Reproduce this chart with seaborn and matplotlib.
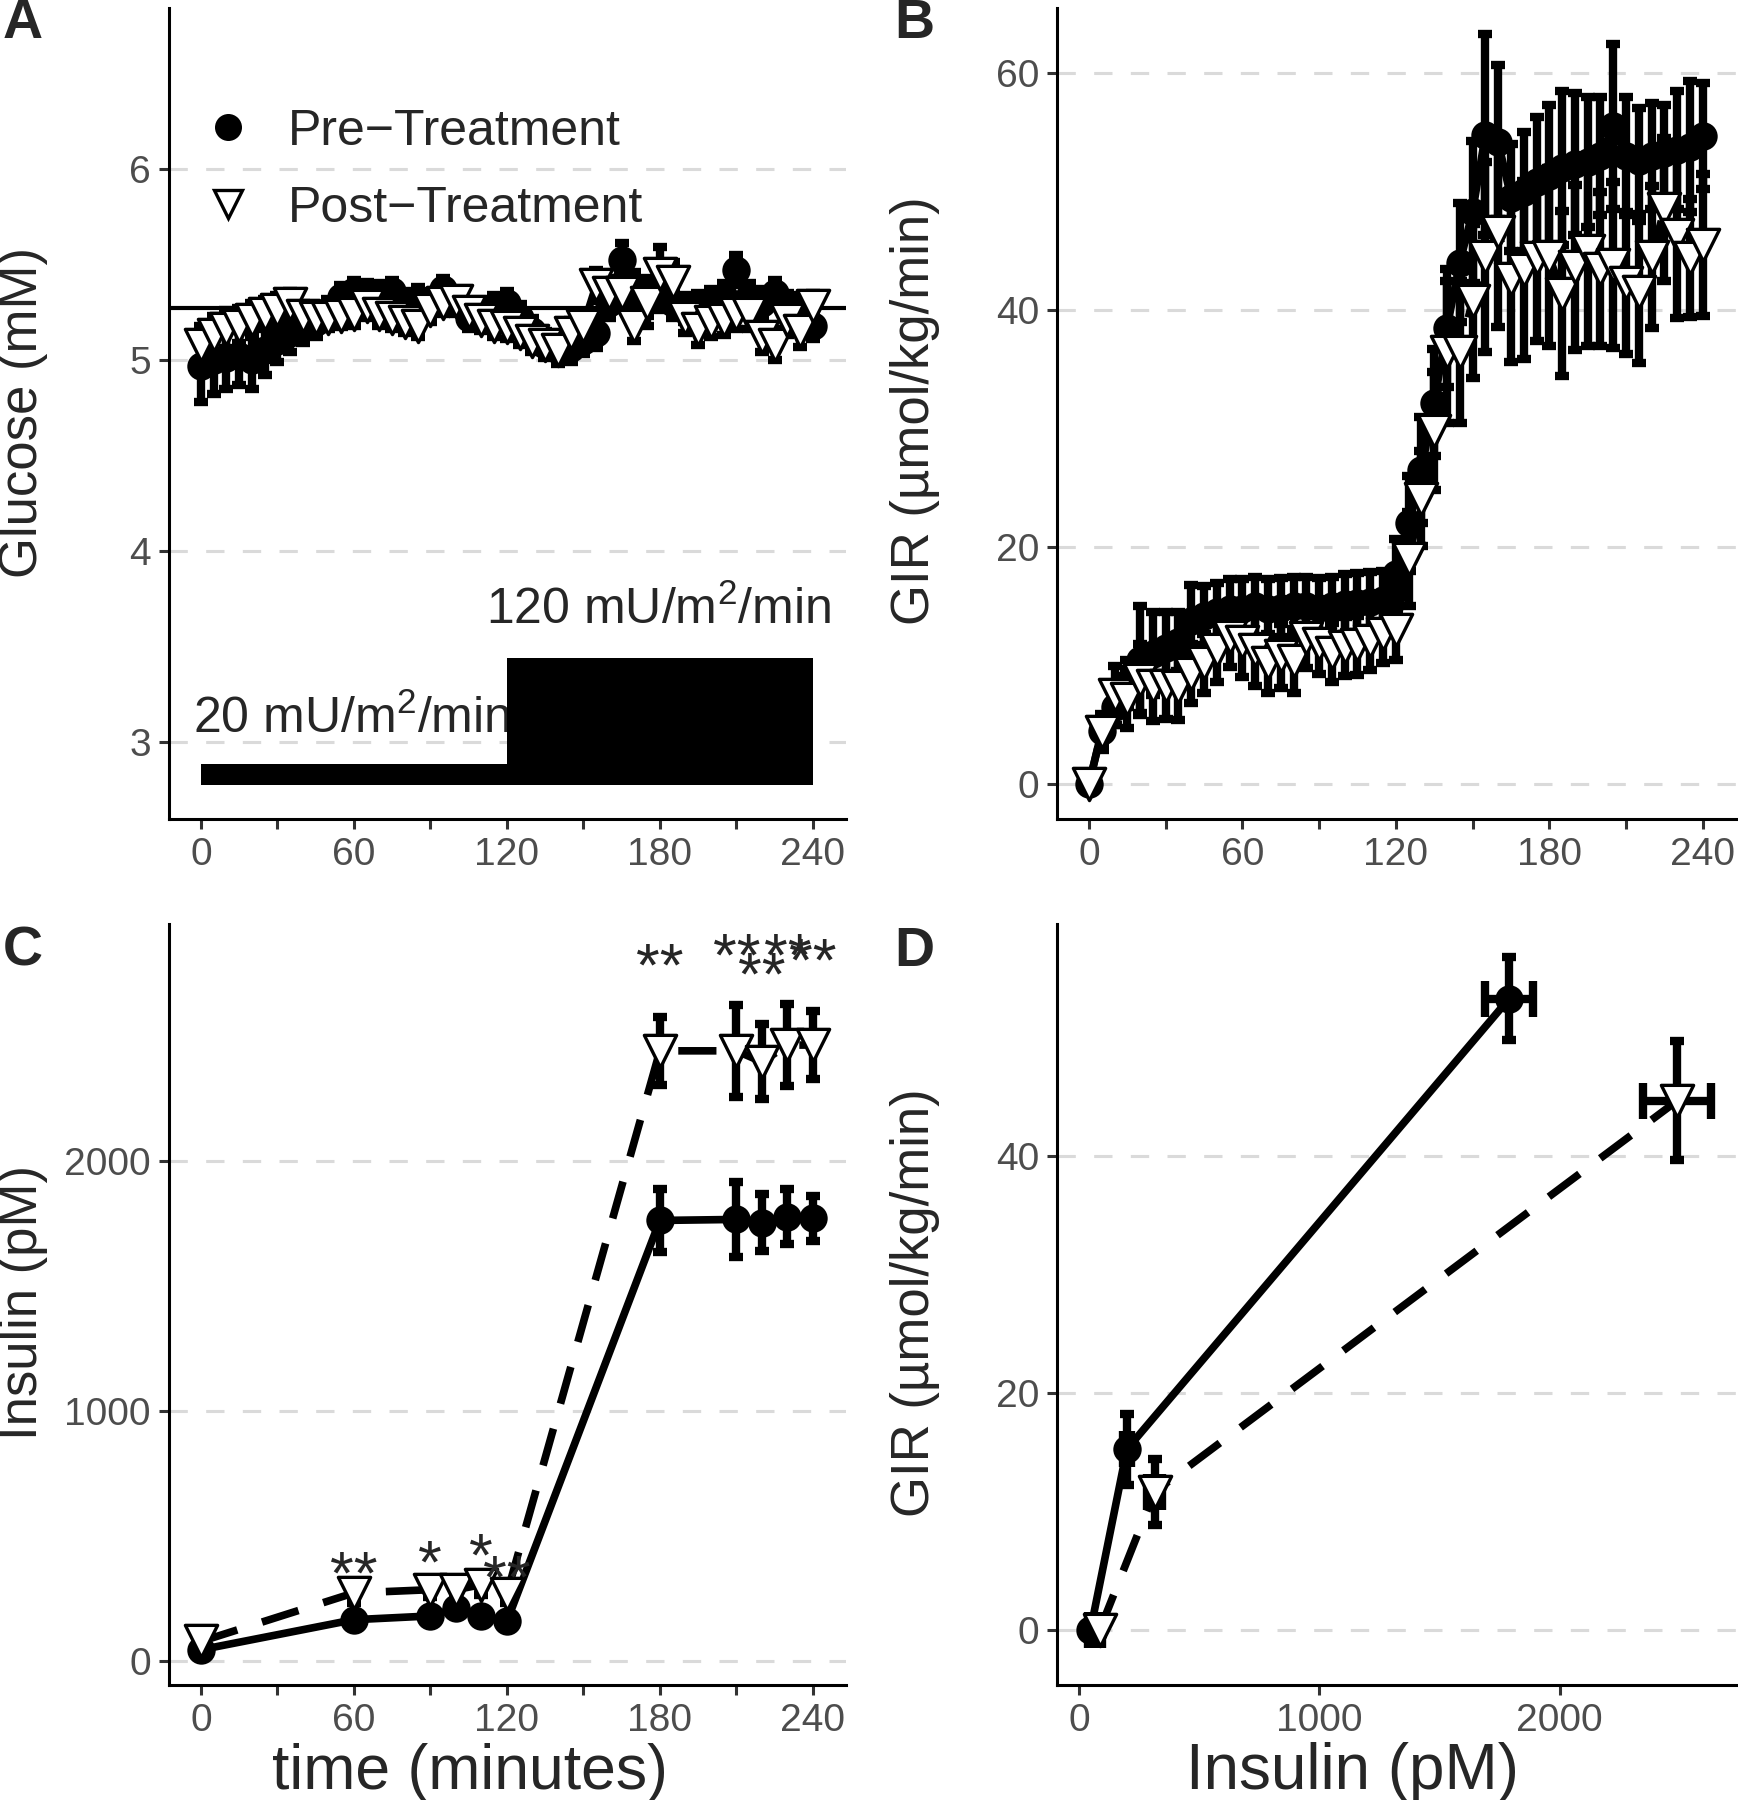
import numpy as np
import pandas as pd
import matplotlib
matplotlib.use("Agg")
import matplotlib.pyplot as plt
from matplotlib.lines import Line2D
import seaborn as sns

sns.set_theme(style="white")
plt.rcParams['font.family'] = ['Liberation Sans', 'DejaVu Sans']
plt.rcParams['mathtext.fontset'] = 'custom'
plt.rcParams['mathtext.rm'] = 'Liberation Sans'
plt.rcParams['mathtext.it'] = 'Liberation Sans:italic'
plt.rcParams['mathtext.bf'] = 'Liberation Sans:bold'

# ---------------- data ----------------
time_ab = [0, 5, 10, 15, 20, 25, 30, 35, 40, 45, 50, 55, 60, 65, 70, 75, 80, 85, 90, 95,
           100, 105, 110, 115, 120, 125, 130, 135, 140, 145, 150, 155, 160, 165, 170, 175,
           180, 185, 190, 195, 200, 205, 210, 215, 220, 225, 230, 235, 240]

glucose_pre = [4.97, 5.00, 5.01, 5.02, 5.00, 5.05, 5.10, 5.14, 5.18, 5.20,
               5.25, 5.33, 5.36, 5.35, 5.34, 5.36, 5.30, 5.32, 5.30, 5.37,
               5.30, 5.22, 5.22, 5.28, 5.30, 5.22, 5.15, 5.08, 5.05, 5.06,
               5.10, 5.14, 5.30, 5.52, 5.38, 5.33, 5.38, 5.30, 5.27, 5.28,
               5.30, 5.33, 5.47, 5.33, 5.30, 5.35, 5.28, 5.27, 5.18]
glucose_pre_se = [0.19, 0.18, 0.16, 0.15, 0.15, 0.13, 0.11, 0.10, 0.09, 0.08,
                  0.07, 0.06, 0.06, 0.06, 0.06, 0.06, 0.06, 0.06, 0.06, 0.06,
                  0.06, 0.06, 0.06, 0.06, 0.06, 0.07, 0.07, 0.07, 0.07, 0.07,
                  0.07, 0.08, 0.08, 0.09, 0.08, 0.10, 0.12, 0.08, 0.07, 0.07,
                  0.07, 0.07, 0.08, 0.07, 0.07, 0.07, 0.07, 0.07, 0.07]
glucose_post = [5.08, 5.13, 5.16, 5.18, 5.21, 5.24, 5.26, 5.29, 5.23, 5.22,
                5.22, 5.23, 5.24, 5.28, 5.24, 5.22, 5.20, 5.18, 5.26, 5.30,
                5.31, 5.25, 5.21, 5.18, 5.17, 5.14, 5.10, 5.08, 5.05, 5.14,
                5.18, 5.39, 5.35, 5.35, 5.18, 5.30, 5.45, 5.41, 5.22, 5.16,
                5.20, 5.21, 5.24, 5.24, 5.12, 5.08, 5.21, 5.15, 5.28]
glucose_post_se = [0.10, 0.10, 0.10, 0.09, 0.09, 0.08, 0.08, 0.07, 0.07, 0.06,
                   0.06, 0.06, 0.06, 0.06, 0.06, 0.06, 0.06, 0.06, 0.06, 0.06,
                   0.06, 0.06, 0.06, 0.06, 0.06, 0.06, 0.06, 0.06, 0.06, 0.07,
                   0.07, 0.08, 0.08, 0.08, 0.08, 0.12, 0.14, 0.10, 0.08, 0.08,
                   0.08, 0.08, 0.08, 0.08, 0.08, 0.08, 0.08, 0.08, 0.07]
glucose_mean = 5.27

infusion_start = [0, 120]
infusion_width = [120, 120]
infusion_rate = [20, 120]
infusion_labels = [r'20 mU/m$^2$/min', r'120 mU/m$^2$/min']

gir_pre = [0.0, 4.5, 6.5, 8.5, 10.5, 11.0, 11.5, 12.0, 13.8, 14.2,
           14.5, 14.8, 14.8, 15.0, 14.8, 14.9, 15.0, 15.0, 14.9, 15.0,
           15.2, 15.3, 15.4, 15.5, 17.7, 22.0, 26.5, 32.2, 38.5, 44.0,
           48.3, 54.8, 54.2, 49.5, 50.0, 50.8, 51.3, 52.0, 52.3, 52.5,
           53.0, 55.5, 53.0, 52.6, 53.0, 53.3, 53.5, 53.8, 54.7]
gir_pre_se = [0.3, 1.0, 1.5, 2.0, 4.5, 3.5, 3.0, 2.5, 3.0, 2.5,
              2.5, 2.5, 2.5, 2.5, 2.5, 2.5, 2.5, 2.5, 2.5, 2.5,
              2.5, 2.5, 2.5, 2.5, 3.0, 4.0, 4.5, 4.5, 5.0, 5.0,
              6.0, 8.5, 6.5, 4.5, 5.0, 5.5, 6.0, 6.5, 6.0, 5.5,
              5.0, 7.0, 5.0, 4.5, 4.5, 4.0, 5.0, 5.5, 4.5]
gir_post = [0.0, 4.4, 7.5, 7.2, 8.8, 8.3, 8.3, 8.2, 9.3, 10.2,
            11.3, 12.4, 12.0, 11.3, 10.2, 10.8, 10.4, 12.3, 11.8, 11.1,
            11.6, 11.7, 12.1, 12.7, 13.0, 19.0, 24.1, 29.8, 36.5, 36.5,
            40.8, 44.5, 46.6, 42.6, 43.4, 44.4, 44.5, 41.4, 43.6, 45.0,
            43.5, 43.8, 42.3, 41.5, 44.5, 48.5, 46.3, 44.4, 45.5]
gir_post_se = [0.3, 1.5, 2.5, 2.5, 3.0, 3.0, 2.8, 2.8, 2.5, 2.5,
               2.7, 2.5, 3.0, 3.0, 2.5, 2.7, 2.7, 2.5, 2.5, 2.5,
               2.5, 2.5, 2.5, 2.5, 2.5, 4.0, 4.0, 5.0, 6.0, 6.0,
               6.5, 8.0, 8.0, 7.0, 7.5, 7.0, 7.5, 7.0, 7.0, 8.0,
               6.5, 7.0, 6.0, 6.0, 6.0, 6.0, 7.0, 5.0, 6.0]

time_c = [0, 60, 90, 100, 110, 120, 180, 210, 220, 230, 240]
insulin_pre = [45, 165, 180, 210, 180, 158, 1761, 1765, 1752, 1775, 1770]
insulin_pre_se = [10, 20, 20, 20, 20, 20, 125, 150, 115, 110, 90]
insulin_post = [78, 272, 285, 285, 305, 268, 2439, 2439, 2395, 2462, 2462]
insulin_post_se = [12, 40, 30, 25, 40, 35, 135, 185, 150, 165, 135]

star_times = [60, 90, 110, 120, 180, 210, 220, 230, 240]
star_labels = ['**', '*', '*', '**', '**', '**', '**', '**', '**']
star_centres = [385, 430, 455, 370, 2815, 2855, 2780, 2855, 2835]

ins_pre_d = [48, 200, 1790]
ins_pre_d_se = [8, 15, 100]
gir_pre_d = [0.0, 15.3, 53.3]
gir_pre_d_se = [0.3, 3.0, 3.5]
ins_post_d = [86, 315, 2490]
ins_post_d_se = [10, 30, 141]
gir_post_d = [0.0, 11.7, 44.7]
gir_post_d_se = [0.3, 2.8, 5.0]

# ---------------- layout helpers ----------------
W, H = 1738, 1800
fig = plt.figure(figsize=(W / 100, H / 100), dpi=100)


def px_axes(l, t, r, b):
    return fig.add_axes([l / W, 1 - b / H, (r - l) / W, (b - t) / H])


TICK_FS = 28
YTITLE_FS = 38
XTITLE_FS = 45
LEG_FS = 36
ANN_FS = 36
STAR_FS = 44
LW = 5.5
DASH = (0, (5.0, 3.4))
CIRCLE_S = 340
TRI_S = 540
EB_LW = 6.0


def style_axes(ax, xlim, ylim, xticks, xticklabels, yticks):
    ax.set_xlim(*xlim)
    ax.set_ylim(*ylim)
    ax.set_xticks(xticks)
    ax.set_xticklabels(xticklabels)
    ax.set_yticks(yticks)
    ax.set_yticklabels([str(v) for v in yticks])
    ax.grid(False)
    for s in ['top', 'right']:
        ax.spines[s].set_visible(False)
    for s in ['left', 'bottom']:
        ax.spines[s].set_color('black')
        ax.spines[s].set_linewidth(2.2)
    ax.tick_params(axis='both', direction='out', length=7, width=2.2, color='#333333',
                   labelsize=TICK_FS, labelcolor='#4D4D4D', pad=6,
                   bottom=True, left=True)
    for y in yticks:
        ax.axhline(y, color='#DADADA', lw=2.2, ls=(0, (6, 6)), zorder=0)
    ax.set_xlabel('')
    ax.set_ylabel('')


def draw_series(ax, x, y, se, kind, xerr=None, line=True):
    df = pd.DataFrame({'x': x, 'y': y})
    ls = '-' if kind == 'pre' else DASH
    if line:
        sns.lineplot(data=df, x='x', y='y', ax=ax, color='black', lw=LW, linestyle=ls,
                     estimator=None, sort=False, zorder=2, legend=False)
    ax.errorbar(x, y, yerr=se, fmt='none', ecolor='black', elinewidth=EB_LW,
                capsize=5, capthick=EB_LW, zorder=3)
    if xerr is not None:
        ax.errorbar(x, y, xerr=xerr, fmt='none', ecolor='black', elinewidth=EB_LW,
                    capsize=13, capthick=EB_LW, zorder=3)
    if kind == 'pre':
        sns.scatterplot(data=df, x='x', y='y', ax=ax, marker='o', s=CIRCLE_S, color='black',
                        edgecolor='black', linewidth=2.0, zorder=4, legend=False)
    else:
        sns.scatterplot(data=df, x='x', y='y', ax=ax, marker='v', s=TRI_S, color='white',
                        edgecolor='black', linewidth=2.4, zorder=5, legend=False)


time_ticks = [0, 30, 60, 90, 120, 150, 180, 210, 240]
time_labels = ['0', '', '60', '', '120', '', '180', '', '240']
TLIM = (-12.5, 253)

# ---------------- Panel A ----------------
axA = px_axes(169, 8, 846, 819)
draw_series(axA, time_ab, glucose_pre, glucose_pre_se, 'pre')
draw_series(axA, time_ab, glucose_post, glucose_post_se, 'post')
axA.axhline(glucose_mean, color='black', lw=3, zorder=1.5)
bar_base = 2.78
bar_scale = 0.0055
axA.bar(infusion_start, [r * bar_scale for r in infusion_rate], width=infusion_width,
        bottom=bar_base, align='edge', color='black', edgecolor='none', zorder=2)
axA.text(-3, 3.05, infusion_labels[0], ha='left', va='baseline', fontsize=ANN_FS, zorder=1)
axA.text(247, 3.62, infusion_labels[1], ha='right', va='baseline', fontsize=ANN_FS, zorder=1)
style_axes(axA, TLIM, (2.6, 6.84), time_ticks, time_labels, [3, 4, 5, 6])
handles = [Line2D([], [], ls='none', marker='o', ms=np.sqrt(CIRCLE_S) - 1, mfc='black', mec='black', mew=2.0),
           Line2D([], [], ls='none', marker='v', ms=np.sqrt(TRI_S) - 3, mfc='white', mec='black', mew=2.4)]
axA.legend(handles, ['Pre\u2212Treatment', 'Post\u2212Treatment'], loc='upper left',
           bbox_to_anchor=(0.05, 0.876), frameon=False, fontsize=LEG_FS, handlelength=1.0,
           handletextpad=0.7, labelspacing=0.62, borderaxespad=0, borderpad=0)

# ---------------- Panel B ----------------
axB = px_axes(1057, 8, 1736, 819)
draw_series(axB, time_ab, gir_pre, gir_pre_se, 'pre')
draw_series(axB, time_ab, gir_post, gir_post_se, 'post')
style_axes(axB, TLIM, (-2.95, 65.5), time_ticks, time_labels, [0, 20, 40, 60])

# ---------------- Panel C ----------------
axC = px_axes(169, 924, 846, 1685)
draw_series(axC, time_c, insulin_pre, insulin_pre_se, 'pre')
draw_series(axC, time_c, insulin_post, insulin_post_se, 'post')
for t, lab, yc in zip(star_times, star_labels, star_centres):
    axC.text(t, yc - 115, lab, ha='center', va='baseline', fontsize=STAR_FS, zorder=6)
style_axes(axC, TLIM, (-96, 2946), time_ticks, time_labels, [0, 1000, 2000])

# ---------------- Panel D ----------------
axD = px_axes(1057, 924, 1736, 1685)
draw_series(axD, ins_pre_d, gir_pre_d, gir_pre_d_se, 'pre', xerr=ins_pre_d_se)
draw_series(axD, ins_post_d, gir_post_d, gir_post_d_se, 'post', xerr=ins_post_d_se)
style_axes(axD, (-91, 2734), (-4.6, 59.6), [0, 1000, 2000], ['0', '1000', '2000'], [0, 20, 40])

# ---------------- titles & panel letters ----------------
def ftext(x, y, s, **kw):
    fig.text(x / W, 1 - y / H, s, **kw)

ftext(23, 413, 'Glucose (mM)', rotation=90, ha='center', va='center', fontsize=YTITLE_FS)
ftext(915, 411, 'GIR (\u00b5mol/kg/min)', rotation=90, ha='center', va='center', fontsize=YTITLE_FS)
ftext(23, 1303, 'Insulin (pM)', rotation=90, ha='center', va='center', fontsize=YTITLE_FS)
ftext(915, 1303, 'GIR (\u00b5mol/kg/min)', rotation=90, ha='center', va='center', fontsize=YTITLE_FS)
ftext(470, 1772, 'time (minutes)', ha='center', va='center', fontsize=XTITLE_FS)
ftext(1352, 1772, 'Insulin (pM)', ha='center', va='center', fontsize=XTITLE_FS + 1)

for lab, (x, y) in zip(['A', 'B', 'C', 'D'], [(23, 24), (914, 24), (23, 952), (914, 952)]):
    ftext(x, y, lab, ha='center', va='center', fontsize=40, fontweight='bold')

fig.savefig('out.png', dpi=100)
